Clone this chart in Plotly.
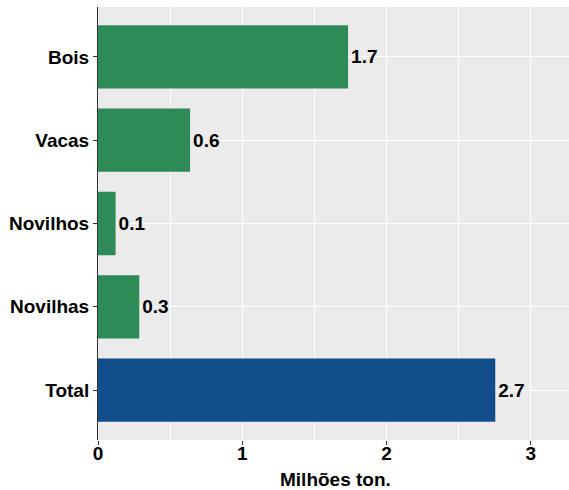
import plotly.graph_objects as go

# data
categorias = ["Total", "Novilhas", "Novilhos", "Vacas", "Bois"]
valores = [2.753, 0.286, 0.122, 0.638, 1.733]
rotulos = ["2.7", "0.3", "0.1", "0.6", "1.7"]
cores = ["#114E8B", "#2E8B57", "#2E8B57", "#2E8B57", "#2E8B57"]
x_ticks = [0, 1, 2, 3]

FONT = "Liberation Sans, Arial, sans-serif"

fig = go.Figure(go.Bar(
    x=valores,
    y=categorias,
    orientation="h",
    marker=dict(color=cores, line=dict(width=0)),
    width=0.76,
    text=["<b>" + r + "</b>" for r in rotulos],
    textposition="outside",
    textfont=dict(family=FONT, size=19, color="black"),
    constraintext="none",
    cliponaxis=False,
    hoverinfo="skip",
))

fig.update_layout(
    width=569,
    height=490,
    template=None,
    paper_bgcolor="white",
    plot_bgcolor="#EBEBEB",
    margin=dict(l=98, r=0, t=7, b=50),
    showlegend=False,
    font=dict(family=FONT, size=19, color="black"),
)

# x axis title as annotation so it sits where the reference has it
fig.add_annotation(
    text="<b>Milhões ton.</b>",
    xref="paper", yref="paper", x=0.505, y=0,
    xanchor="center", yanchor="middle", yshift=-39,
    showarrow=False,
    font=dict(family=FONT, size=19, color="black"),
)

fig.update_xaxes(
    range=[0, 3.264],
    automargin=False,
    tickvals=x_ticks,
    ticktext=["<b>%d</b>" % t for t in x_ticks],
    tickfont=dict(family=FONT, size=19, color="black"),
    ticklabelstandoff=-8,
    ticks="outside",
    ticklen=4,
    tickcolor="#333333",
    tickwidth=1,
    showgrid=True,
    gridcolor="white",
    gridwidth=1.3,
    minor=dict(dtick=0.5, tick0=0, showgrid=True, gridcolor="white", gridwidth=0.7, ticks=""),
    zeroline=False,
    showline=False,
)

fig.update_yaxes(
    type="category",
    automargin=False,
    categoryorder="array",
    categoryarray=categorias,
    range=[-0.6, 4.6],
    ticktext=["<b>" + c + "</b>" for c in categorias],
    tickvals=categorias,
    tickfont=dict(family=FONT, size=19, color="black"),
    ticks="outside",
    ticklen=4,
    tickcolor="#333333",
    tickwidth=1,
    showgrid=True,
    gridcolor="white",
    gridwidth=1.3,
    zeroline=False,
    showline=True,
    linecolor="#333333",
    linewidth=1,
)

# drop the default 8px page margin so the figure fills the window
fig.write_html(
    "out.html",
    config={"displayModeBar": False},
    post_script="document.body.style.margin='0px';",
)
